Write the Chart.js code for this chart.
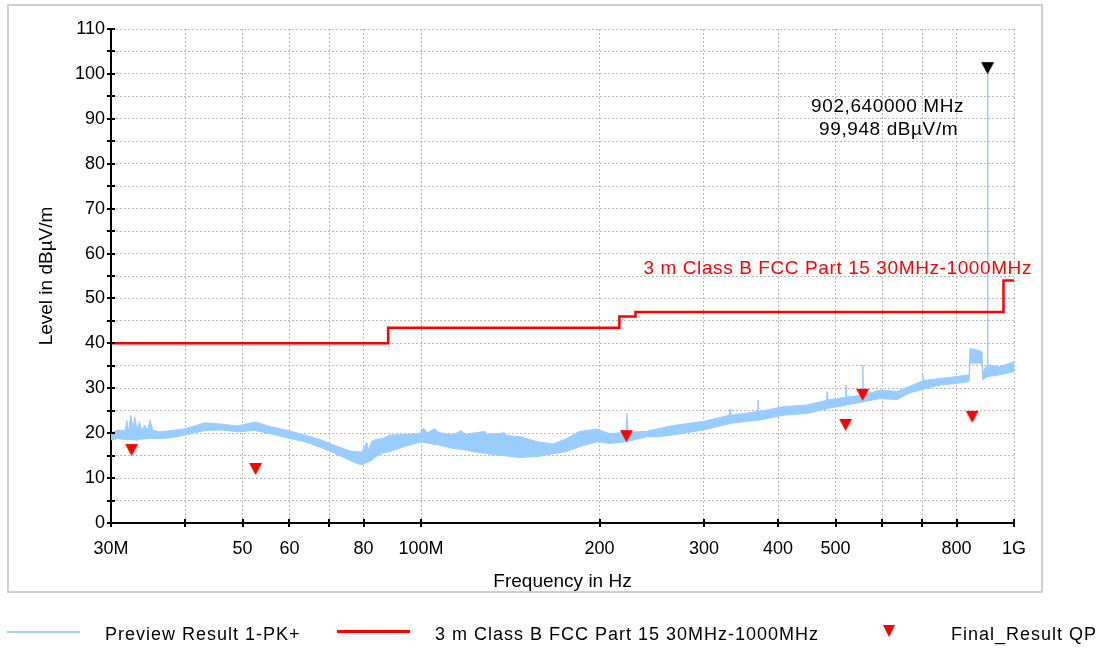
<!DOCTYPE html>
<html>
<head>
<meta charset="utf-8">
<script src="https://cdn.jsdelivr.net/npm/chart.js@4.4.1/dist/chart.umd.min.js"></script>
<style>
  html, body { margin: 0; padding: 0; background: #fff; }
  #wrap { position: relative; width: 1097px; height: 648px; overflow: hidden;
          font-family: "Liberation Sans", Arial, sans-serif; color: #000; }
  #frame { position: absolute; left: 7px; top: 4px; width: 1032px; height: 585px;
           border: 2px solid #cfcfcf; }
  #chart { position: absolute; left: 0; top: 0; }
  .lg { position: absolute; font-size: 18px; line-height: 18px; white-space: nowrap; letter-spacing: 1px; }
</style>
</head>
<body>
<div id="wrap">
  <div id="frame"></div>
  <canvas id="chart" width="1097" height="648"></canvas>
  <div class="lg" style="left:7px; top:631px; width:73px; height:2px; background:#a6cef2;"></div>
  <div class="lg" id="lg1" style="left:105px; top:625px;"></div>
  <div class="lg" style="left:337px; top:630px; width:73px; height:3px; background:#ff0000;"></div>
  <div class="lg" id="lg2" style="left:435px; top:625px;"></div>
  <div class="lg" style="left:883px; top:625px; width:0; height:0; border-left:6px solid transparent; border-right:6px solid transparent; border-top:12px solid #ff0000;"></div>
  <div class="lg" id="lg3" style="left:951px; top:625px;"></div>
</div>
<script>
// Preview scan (peak), envelope of the trace in MHz / dBµV/m
const previewFreq = [30.0, 30.8, 31.7, 31.9, 32.1, 32.4, 32.7, 32.9, 33.2, 33.5, 33.8, 34.2, 34.6, 34.9, 35.3,
  36.3, 38.0, 40.0, 43.2, 46.2, 49.1, 52.5, 56.0, 59.6, 63.7, 68.1, 72.4, 76.5, 79.5, 81.0, 81.5, 82.6, 84.0,
  86.3, 88.6, 94.7, 99.5, 101, 102.5, 105.5, 106.8, 113.2, 117, 118.5, 122.3, 128, 129.5, 134.3, 138, 139.5,
  146.8, 156.9, 167, 176, 185, 198, 208, 221.5, 222.5, 223.5,
  240, 251, 266, 299, 331, 332, 333, 369, 370, 371, 408, 448, 483, 484, 485, 520, 521, 522, 555, 556, 557,
  594, 635, 668, 701, 702, 703, 750, 800, 840, 843, 883, 885, 901.5, 902.64, 903.8, 946, 1000];
const previewMax = [20.0, 20.7, 20.5, 22.8, 20.3, 23.9, 21.0, 23.6, 20.8, 22.5, 20.6, 21.8, 20.7, 23.0, 20.6,
  20.3, 20.6, 21.0, 22.3, 22.0, 21.6, 22.5, 21.4, 20.6, 19.6, 18.4, 17.0, 15.9, 15.8, 18.0, 16.2, 18.2, 18.6,
  18.8, 19.6, 19.7, 20.0, 21.1, 20.1, 21.0, 20.2, 19.6, 20.6, 19.7, 20.0, 20.4, 19.8, 19.9, 20.1, 19.5,
  19.2, 18.1, 17.6, 18.8, 20.4, 20.9, 19.9, 20.2, 24.4, 20.2,
  20.4, 21.0, 21.7, 22.6, 24.0, 25.4, 24.0, 24.8, 27.4, 24.8, 25.9, 26.3, 27.3, 29.2, 27.4, 28.0, 30.7, 28.1, 28.4, 35.2, 28.5,
  29.6, 29.3, 30.5, 31.6, 33.0, 31.7, 32.2, 32.6, 33.0, 38.9, 38.2, 33.7, 35.2, 99.948, 35.2, 34.8, 35.9];
const previewMin = [18.5, 18.8, 18.6, 18.5, 18.6, 18.6, 18.6, 18.5, 18.4, 18.6, 18.7, 18.7, 18.8, 18.8, 18.8,
  18.8, 19.0, 19.6, 20.6, 20.7, 20.3, 20.6, 19.8, 18.9, 18.1, 16.7, 15.2, 13.7, 12.9, 13.5, 13.6, 14.0, 14.8,
  15.6, 15.9, 17.2, 18.0, 18.0, 17.8, 17.5, 17.4, 16.6, 16.4, 16.3, 15.9, 15.5, 15.4, 15.1, 15.0, 14.9,
  14.6, 14.8, 15.4, 15.9, 17.0, 18.1, 17.7, 18.1, 18.1, 18.2,
  19.2, 19.2, 19.6, 20.7, 22.1, 22.2, 22.2, 22.9, 22.9, 22.9, 24.0, 24.4, 25.4, 25.5, 25.5, 26.2, 26.3, 26.3, 26.9, 27.0, 27.0,
  27.7, 27.5, 29.0, 29.7, 29.8, 29.8, 30.7, 31.1, 31.5, 35.6, 35.6, 31.9, 32.6, 33.0, 32.6, 33.0, 33.7];

// FCC Part 15 class B limit (3 m), break points
const limitName = '3 m Class B FCC Part 15 30MHz-1000MHz';
const limitFreq = [30, 88, 216, 230, 960, 1000];
const limitLevel = [40, 43.5, 46, 47, 54, 54];

// Final QP results
const qpFreq = [32.5, 52.6, 222, 520, 555.6, 850];
const qpLevel = [14.9, 10.7, 18.0, 20.5, 27.2, 22.3];

// Max peak marker
const markerFreq = 902.64;
const markerLevel = 99.948;

const xTickValues = [30, 40, 50, 60, 70, 80, 100, 200, 300, 400, 500, 600, 700, 800, 1000];
const xTickLabels = ['30M', '', '50', '60', '', '80', '100M', '200', '300', '400', '500', '', '', '800', '1G'];

const fontFamily = '"Liberation Sans", Arial, sans-serif';

document.getElementById('lg1').textContent = 'Preview Result 1-PK+';
document.getElementById('lg2').textContent = limitName;
document.getElementById('lg3').textContent = 'Final_Result QP';

// down-pointing triangle whose tip sits on the data point
function makeTriangle(color, w, h) {
    const c = document.createElement('canvas');
    c.width = w + 2;
    c.height = h * 2 + 2;
    const g = c.getContext('2d');
    g.fillStyle = color;
    g.beginPath();
    g.moveTo(1, 1);
    g.lineTo(w + 1, 1);
    g.lineTo(w / 2 + 1, h + 1);
    g.closePath();
    g.fill();
    return c;
}
const redTri = makeTriangle('#ff0000', 13, 12);
const blackTri = makeTriangle('#000000', 13, 12);

const extras = {
    id: 'extras',
    afterDraw(chart) {
        const { ctx, scales: { x, y } } = chart;
        ctx.save();
        // axis ticks crossing the axis lines
        ctx.strokeStyle = '#000';
        ctx.lineWidth = 2;
        ctx.beginPath();
        y.ticks.forEach(t => {
            const py = Math.round(y.getPixelForValue(t.value));
            ctx.moveTo(x.left - 4, py);
            ctx.lineTo(x.left + 4, py);
        });
        xTickValues.forEach(v => {
            const px = Math.round(x.getPixelForValue(v));
            ctx.moveTo(px, y.bottom - 4);
            ctx.lineTo(px, y.bottom + 4);
        });
        ctx.stroke();

        // limit line name
        ctx.font = '19px ' + fontFamily;
        ctx.letterSpacing = '0.6px';
        ctx.fillStyle = '#ff0000';
        ctx.textAlign = 'right';
        ctx.textBaseline = 'middle';
        ctx.fillText(limitName, x.right + 18, y.getPixelForValue(limitLevel[limitLevel.length - 1]) - 12);

        // marker readout
        const mx = x.getPixelForValue(markerFreq);
        const my = y.getPixelForValue(markerLevel);
        ctx.fillStyle = '#000';
        ctx.textAlign = 'center';
        ctx.fillText(markerFreq.toFixed(6).replace('.', ',') + ' MHz', mx - 100, my + 33);
        ctx.fillText(markerLevel.toFixed(3).replace('.', ',') + ' dBµV/m', mx - 99, my + 56);
        ctx.restore();
    }
};

Chart.defaults.font.family = fontFamily;
Chart.defaults.font.size = 18;
Chart.defaults.color = '#000';

const ctx = document.getElementById('chart');
new Chart(ctx, {
    type: 'line',
    data: {
        datasets: [{
            label: 'Preview Result 1-PK+',
            data: previewFreq.map((f, i) => ({ x: f, y: previewMax[i] })),
            borderColor: '#99ccff',
            backgroundColor: '#99ccff',
            borderWidth: 1,
            pointRadius: 0,
            fill: '+1',
            order: 3
        }, {
            label: 'preview min',
            data: previewFreq.map((f, i) => ({ x: f, y: previewMin[i] })),
            borderColor: '#99ccff',
            borderWidth: 1,
            pointRadius: 0,
            fill: false,
            order: 3
        }, {
            label: limitName,
            data: limitFreq.map((f, i) => ({ x: f, y: limitLevel[i] })),
            borderColor: '#ff0000',
            borderWidth: 2.5,
            pointRadius: 0,
            stepped: 'before',
            fill: false,
            order: 2
        }, {
            label: 'Final_Result QP',
            data: qpFreq.map((f, i) => ({ x: f, y: qpLevel[i] })),
            showLine: false,
            pointStyle: redTri,
            pointRadius: 6,
            order: 1
        }, {
            label: 'marker',
            data: [{ x: markerFreq, y: markerLevel }],
            showLine: false,
            pointStyle: blackTri,
            pointRadius: 6,
            order: 0
        }]
    },
    options: {
        responsive: false,
        animation: false,
        layout: { padding: { left: 0, top: 29, right: 83, bottom: 55 } },
        plugins: {
            legend: { display: false },
            tooltip: { enabled: false }
        },
        scales: {
            x: {
                type: 'logarithmic',
                position: 'bottom',
                min: 30,
                max: 1000,
                grid: { color: '#b8b8b8', lineWidth: 1, drawTicks: false },
                border: { display: true, color: '#000', width: 2, dash: [2, 2] },
                ticks: {
                    autoSkip: false,
                    maxRotation: 0,
                    padding: 15,
                    callback: (value, index) => xTickLabels[index]
                },
                title: { display: true, text: 'Frequency in Hz', font: { size: 19 }, padding: { top: 0, bottom: 0 } },
                afterBuildTicks: (scale) => {
                    scale.ticks = xTickValues.map(v => ({ value: v }));
                },
                afterFit: (scale) => {
                    scale.height = 70;
                    scale.paddingLeft = 0;
                    scale.paddingRight = 0;
                }
            },
            y: {
                min: 0,
                max: 110,
                grid: { color: '#b8b8b8', lineWidth: 1, drawTicks: false },
                border: { display: true, color: '#000', width: 2, dash: [2, 2] },
                ticks: {
                    stepSize: 5,
                    autoSkip: false,
                    padding: 6,
                    callback: (value) => value % 10 === 0 ? value : ''
                },
                title: { display: true, text: 'Level in dBµV/m', font: { size: 19 }, padding: { top: 35, bottom: 0 } },
                afterFit: (scale) => {
                    scale.width = 111;
                    scale.paddingTop = 0;
                    scale.paddingBottom = 0;
                }
            }
        }
    },
    plugins: [extras]
});
</script>
</body>
</html>
